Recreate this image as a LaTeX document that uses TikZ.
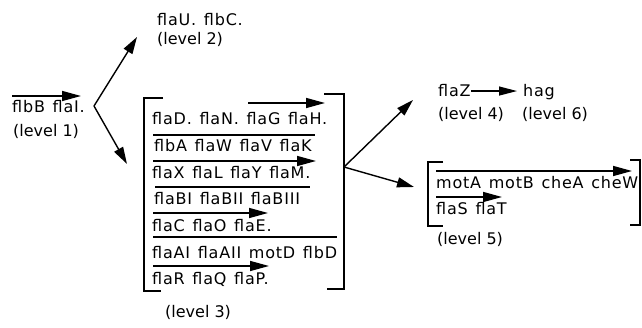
\documentclass[tikz,border=0pt]{standalone}
\usepackage{fontspec}
\setmainfont{DejaVu Sans}
% gene names are set with a little tracking and wider word gaps
\newfontfamily\genefont{DejaVu Sans}[LetterSpace=5,WordSpace=1.3]
\usetikzlibrary{arrows.meta}
\begin{document}
\begin{tikzpicture}[x=1pt,y=-1pt,
  gene/.style={anchor=base west,inner sep=0pt,font=\genefont\fontsize{16}{19}\selectfont},
  lvl/.style={anchor=base west,inner sep=0pt,font=\fontsize{16}{19}\selectfont},
  rule/.style={line width=1.5pt},
  operon/.style={line width=1.5pt,-{Triangle[length=19pt,width=10pt]}},
  bracket/.style={line width=1.5pt},
  link/.style={line width=1.4pt,-{Triangle[length=17pt,width=10pt]}},
]
\useasboundingbox (0,0) rectangle (642,328);

% level 1
\node[gene] (l1) at (12,113) {flbB flaI.};
\node[lvl] (l1lab) at (13,137) {(level 1)};
\draw[operon] (12,96) -- (81,96);

% level 2
\node[gene] (l2) at (157,26) {flaU. flbC.};
\node[lvl] (l2lab) at (157,45) {(level 2)};

% branching from level 1
\coordinate (f1) at (94,106);
\coordinate (t2) at (137,37);
\coordinate (t3) at (127,164);
\draw[link] (f1) -- (t2);
\draw[link] (f1) -- (t3);

% level 3 block
\draw[bracket] (163,98) -- (144,98) -- (144,291) -- (161,291);
\draw[bracket] (324,94) -- (344,94) -- (344,289) -- (327,289);
\node[gene] (r1) at (152,125)   {flaD. flaN. flaG flaH.};
\node[gene] (r2) at (154,151.7) {flbA flaW flaV flaK};
\node[gene] (r3) at (152,178.3) {flaX flaL flaY flaM.};
\node[gene] (r4) at (154,205)   {flaBI flaBII flaBIII};
\node[gene] (r5) at (152,231.7) {flaC flaO flaE.};
\node[gene] (r6) at (152,258.3) {flaAI flaAII motD flbD};
\node[gene] (r7) at (152,285)   {flaR flaQ flaP.};
\draw[operon] (248,103) -- (325,103);
\draw[rule]   (153,135) -- (315,135);
\draw[operon] (153,161) -- (316,161);
\draw[rule]   (155,187) -- (310,187);
\draw[operon] (153,213) -- (268,213);
\draw[rule]   (153,237) -- (337,237);
\draw[operon] (153,266) -- (269,266);
\node[lvl] (l3lab) at (165,317) {(level 3)};

% branching from level 3
\coordinate (f2) at (344,167);
\coordinate (t4) at (413,100);
\coordinate (t5) at (414,187);
\draw[link] (f2) -- (t4);
\draw[link] (f2) -- (t5);

% levels 4 and 6
\node[gene] (flaZ) at (438,97) {flaZ};
\node[gene] (hag) at (523,97) {hag};
\draw[line width=1.2pt,-{Triangle[length=18pt,width=9pt]},shorten >=6pt]
  (flaZ.east) -- (flaZ.east -| hag.west);
\node[lvl] (l4lab) at (438,120) {(level 4)};
\node[lvl] (l6lab) at (522,120) {(level 6)};

% level 5 block
\draw[bracket] (443,162) -- (428,162) -- (428,226) -- (443,226);
\draw[bracket] (630,160) -- (640,160) -- (640,225) -- (630,225);
\node[gene] (m1) at (436,189) {motA motB cheA cheW};
\node[gene] (m2) at (436,215) {flaS flaT};
\draw[operon] (436,171) -- (632,171);
\draw[operon] (436,197) -- (502,197);
\node[lvl] (l5lab) at (437,245) {(level 5)};
\end{tikzpicture}
\end{document}
